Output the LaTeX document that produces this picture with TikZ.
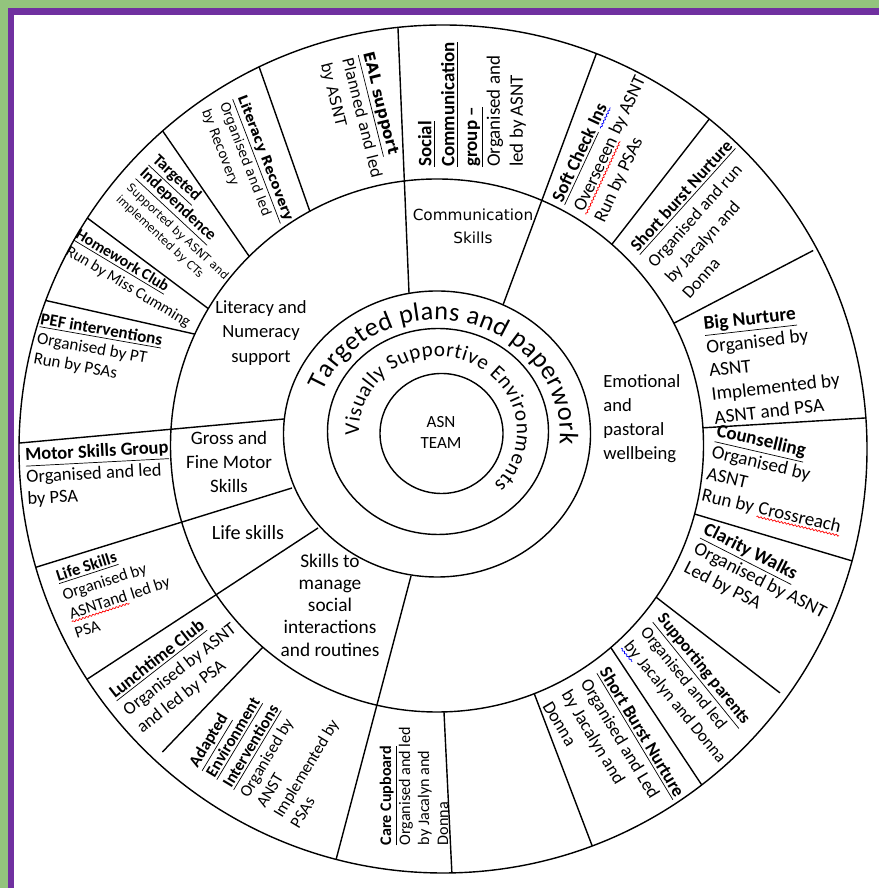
\documentclass[tikz,border=0pt]{standalone}
\usepackage{fontspec}
\setmainfont{Carlito}
\newfontfamily\dvs{DejaVu Sans}
\usetikzlibrary{decorations.text,decorations.pathmorphing}
\definecolor{framegreen}{HTML}{93C47D}
\definecolor{framepurple}{HTML}{7030A0}
\newcommand\hd[1]{\textbf{\underline{#1}}}
\newcommand\squig[2]{\tikz[baseline=(w.base)]{\node[inner sep=0pt] (w) {#2};
  \draw[#1, line width=0.4pt, decorate, decoration={snake, amplitude=0.45pt, segment length=2pt}]
    ([yshift=-1.6pt]w.base west) -- ([yshift=-1.6pt]w.base east);}}
\newcommand\redsq[1]{\squig{red}{#1}}
\newcommand\bluesq[1]{\squig{blue}{#1}}
\tikzset{
  ring/.style={draw=black, line width=0.8pt},
  cellnote/.style={align=left, inner sep=0pt},
  ringlabel/.style={align=center, inner sep=0pt}
}

\begin{document}
\begin{tikzpicture}[x=0.02cm, y=0.02cm]
  \useasboundingbox (0,0) rectangle (879,888);
  \fill[white] (0,0) rectangle (879,888);
  \fill[framegreen] (0,0) rectangle (8,888);
  \fill[framegreen] (0,880) rectangle (879,888);
  \fill[framepurple] (8,0) rectangle (14,880);
  \fill[framepurple] (14,873) rectangle (879,880);

  \coordinate (outc) at (443,439);
  \coordinate (midc) at (437,442.5);
  \coordinate (tpc) at (437,454);
  \coordinate (vsc) at (438,456.5);
  \coordinate (asnc) at (441.5,454.5);

  % rings
  \draw[ring] (outc) circle[radius=424];
  \draw[ring] (midc) circle[radius=266.5];
  \draw[ring] (tpc) ellipse[x radius=153.5, y radius=143];
  \draw[ring] (vsc) ellipse[x radius=110.5, y radius=103];
  \draw[ring] (asnc) ellipse[x radius=61.5, y radius=60];

  % spokes through both outer rings
  \foreach \px/\py/\a in {409/595/96.1, 503/583/68.8, 411/312/255.4,
                          284/469/179.2, 292/400/196.2, 318/360/212.9}
    \draw[ring] (\px,\py) -- ([shift={(\a:424)}]outc);
  % spokes of the outer ring only
  \foreach \i/\o/\r in {118.5/115.7/424, 134.8/131.4/424, 149.1/147/424,
                        155.3/159.5/424, 229.2/227.2/413, 271.5/271.2/424,
                        291.4/290.6/424, 310.7/307.6/424, 325.3/324.1/416,
                        345.1/344.7/424, 3.8/4.2/424, 27.3/28.2/420, 49/51.1/424}
    \draw[ring] ([shift={(\i:266.5)}]midc) -- ([shift={(\o:\r)}]outc);

  % centre
  \node[ringlabel, font=\fontsize{9.7}{12.3}\selectfont] (asn) at (441,455.5) {ASN\\TEAM};
  \path[decorate, decoration={text along path, text align=fit to path,
      text={|\fontsize{12}{14}\selectfont|Visually Supportive Environments}}]
    ([shift={(183:79 and 75)}]vsc) arc[start angle=183, end angle=-45, x radius=79, y radius=75];
  \path[decorate, decoration={text along path, text align=fit to path,
      text={|\fontsize{15}{17}\selectfont|Targeted plans and paperwork}}]
    ([shift={(158:123 and 114)}]tpc) arc[start angle=158, end angle=-5, x radius=123, y radius=114];

  % middle ring
  \node[ringlabel, font=\dvs\fontsize{8.7}{13}\selectfont] (comm) at (473,661.5) {Communication\\Skills};
  \node[ringlabel, font=\fontsize{10.6}{13.7}\selectfont] (lit) at (261,555) {Literacy and\\Numeracy\\support};
  \node[cellnote, anchor=west, font=\fontsize{10.6}{13.7}\selectfont] (emo) at (603,469.5) {Emotional\\and\\pastoral\\wellbeing};
  \node[ringlabel, font=\fontsize{10.8}{13.7}\selectfont] (gross) at (229,426) {Gross and\\Fine Motor\\Skills};
  \node[ringlabel, font=\fontsize{11.5}{13.7}\selectfont] (lifemid) at (248,355) {Life skills};
  \node[ringlabel, font=\fontsize{11}{12.7}\selectfont] (skills) at (330,283) {Skills to\\manage\\social\\interactions\\and routines};

  % outer ring
  \node[cellnote, rotate=90, font=\fontsize{10.8}{13}\selectfont] (social) at (472,783.5)
    {\hd{Social}\\\hd{Communication}\\\hd{group –}\\Organised and\\led by ASNT};
  \node[cellnote, rotate=-76, font=\dvs\fontsize{8.7}{12.6}\selectfont] (eal) at (361,770)
    {\hd{EAL support}\\Planned and led\\by ASNT};
  \node[cellnote, rotate=-69, font=\dvs\fontsize{7.5}{10.9}\selectfont] (litrec) at (247,723)
    {\hd{Literacy Recovery}\\Organised and led\\by Recovery};
  \node[cellnote, rotate=-43, font=\fontsize{9.4}{10.8}\selectfont] (targind) at (186,665)
    {\hd{Targeted}\\\hd{Independence}\\{\dvs\fontsize{6.4}{8}\selectfont Supported by ASNT and}\\[-2pt]{\dvs\fontsize{6.4}{8}\selectfont implemented by CTs}};
  \node[cellnote, rotate=-31, font=\fontsize{9}{10.9}\selectfont] (homework) at (133,609)
    {\hd{Homework Club}\\Run by Miss Cumming};
  \node[cellnote, rotate=-10, font=\fontsize{9.7}{11.4}\selectfont] (pef) at (98,538)
    {\hd{PEF interventions}\\Organised by PT\\Run by PSAs};
  \node[cellnote, rotate=3, font=\fontsize{10.5}{12.5}\selectfont] (motor) at (98,414)
    {\hd{Motor Skills Group}\\Organised and led\\by PSA};
  \node[cellnote, rotate=18, font=\fontsize{9.4}{11.4}\selectfont] (lifeskills) at (116,300)
    {\hd{Life Skills}\\Organised by\\\redsq{ASNTand} led by\\PSA};
  \node[cellnote, rotate=38, font=\fontsize{10.2}{12.6}\selectfont] (lunch) at (180,218)
    {\hd{Lunchtime Club}\\Organised by ASNT\\and led by PSA};
  \node[cellnote, rotate=59, font=\fontsize{9.5}{11.2}\selectfont] (adapted) at (272,140)
    {\hd{Adapted}\\\hd{Environment}\\\hd{Interventions}\\Organised by\\ANST\\Implemented by\\PSAs};
  \node[cellnote, rotate=90, font=\fontsize{9.2}{10.8}\selectfont] (care) at (414,102)
    {\hd{Care Cupboard}\\Organised and led\\by Jacalyn and\\Donna};
  \node[cellnote, rotate=-59, font=\fontsize{10.3}{12.6}\selectfont] (sbnlow) at (614,139)
    {\hd{Short Burst Nurture}\\Organised and Led\\by Jacalyn and\\Donna};
  \node[cellnote, rotate=-51, font=\fontsize{9.8}{12.4}\selectfont] (parents) at (691,199)
    {\hd{Supporting parents}\\Organised and led\\\bluesq{by} Jacalyn and Donna};
  \node[cellnote, rotate=-27, font=\fontsize{10.8}{12.3}\selectfont] (clarity) at (760,307)
    {\hd{Clarity Walks}\\Organised by ASNT\\Led by PSA};
  \node[cellnote, rotate=-13, font=\fontsize{10.8}{12.6}\selectfont] (counsel) at (779,408)
    {\hd{Counselling}\\Organised by\\ASNT\\Run by \redsq{Crossreach}};
  \node[cellnote, rotate=6.5, font=\fontsize{11}{13.5}\selectfont] (bignurture) at (773,525)
    {\hd{Big Nurture}\\Organised by\\ASNT\\Implemented by\\ASNT and PSA};
  \node[cellnote, rotate=48, font=\fontsize{10}{13.2}\selectfont] (sbnhigh) at (707,669)
    {\hd{Short burst Nurture}\\Organised and run\\by Jacalyn and\\Donna};
  \node[cellnote, rotate=65, font=\fontsize{10.5}{13.2}\selectfont] (softcheck) at (610,743.5)
    {\textbf{\underline{Soft Check} \bluesq{Ins}}\\\redsq{Overseeen} by ASNT\\Run by PSAs};
\end{tikzpicture}
\end{document}
